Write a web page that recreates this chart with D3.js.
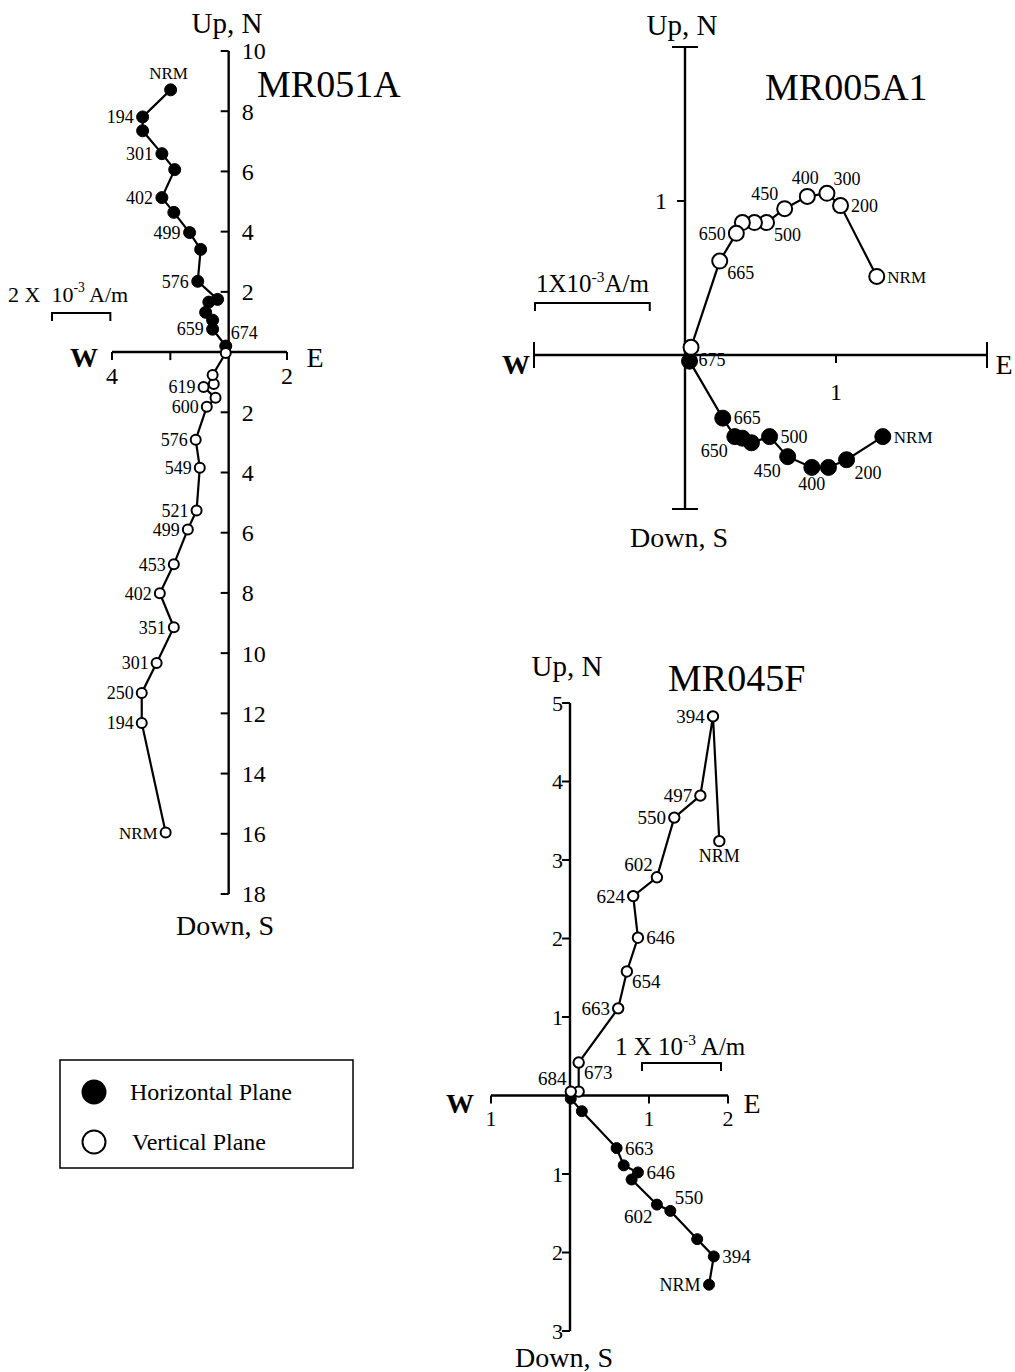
<!DOCTYPE html>
<html lang="en"><head><meta charset="utf-8">
<title>Zijderveld diagrams</title>
<script src="https://cdn.jsdelivr.net/npm/d3@7"></script>
<style>body{margin:0;background:#fff}</style>
</head>
<body>
<script>
// values in 1e-3 A/m ; horizontal plane = [E, N], vertical plane = [E, Up]
// MR051A
var mr051aHoriz = [[-1.99,8.71],[-2.95,7.81],[-2.95,7.35],[-2.29,6.59],[-1.85,6.06],[-2.29,5.13],[-1.88,4.64],
  [-1.34,3.97],[-0.96,3.41],[-1.06,2.35],[-0.38,1.75],[-0.68,1.66],[-0.79,1.32],[-0.55,1.06],[-0.55,0.76],[-0.10,0.20]];
var mr051aHorizLabels = ["NRM","194","","301","","402","","499","","576","","","","","659","674"];
var mr051aVert = [[-2.16,-15.96],[-2.98,-12.32],[-2.98,-11.32],[-2.47,-10.33],[-1.88,-9.14],[-2.36,-8.01],[-1.88,-7.05],
  [-1.40,-5.89],[-1.10,-5.26],[-0.99,-3.84],[-1.13,-2.91],[-0.75,-1.82],[-0.45,-1.52],[-0.86,-1.16],[-0.51,-1.06],[-0.55,-0.76],[-0.10,-0.03]];
var mr051aVertLabels = ["NRM","194","250","301","351","402","453","499","521","549","576","600","","619","","",""];

// MR005A1
var mr005Horiz = [[1.31,-0.53],[1.07,-0.68],[0.95,-0.73],[0.84,-0.73],[0.68,-0.66],[0.56,-0.53],[0.44,-0.57],
  [0.38,-0.54],[0.33,-0.53],[0.25,-0.41],[0.03,-0.04]];
var mr005HorizLabels = ["NRM","200","","400","450","500","","","650","665",""];
var mr005Vert = [[1.27,0.51],[1.03,0.97],[0.94,1.05],[0.81,1.03],[0.66,0.95],[0.54,0.86],[0.46,0.86],
  [0.38,0.86],[0.34,0.79],[0.23,0.61],[0.04,0.05]];
var mr005VertLabels = ["NRM","200","300","400","450","500","","","650","665","675"];

// MR045F
var mr045Horiz = [[1.76,-2.41],[1.82,-2.05],[1.61,-1.83],[1.27,-1.47],[1.10,-1.39],[0.78,-1.07],[0.86,-0.98],
  [0.68,-0.89],[0.59,-0.67],[0.15,-0.20],[0.01,-0.04]];
var mr045HorizLabels = ["NRM","394","","550","602","","646","","663","",""];
var mr045Vert = [[1.89,3.24],[1.81,4.83],[1.65,3.82],[1.32,3.54],[1.10,2.78],[0.80,2.54],[0.86,2.01],
  [0.72,1.58],[0.61,1.11],[0.11,0.42],[0.11,0.05],[0.01,0.05]];
var mr045VertLabels = ["NRM","394","497","550","602","624","646","654","663","673","","684"];

var legendItems = ["Horizontal Plane", "Vertical Plane"];

// label placement around each point (layout only)
var mr051aHorizPlace = ["t","l","","l","","l","","l","","l","","","","","l","rt"];
var mr051aVertPlace = ["l","l","l","l","l","l","l","l","l","l","l","l","","l","","",""];
var mr005HorizPlace = ["r","rb","","b","lb","r","","","lb","r",""];
var mr005VertPlace = ["r","r","rt","t","lt","rb","","","l","rb","rb"];
var mr045HorizPlace = ["l","r","","rt","lb","","r","","r","",""];
var mr045VertPlace = ["b","l","l","l","lt","l","r","rb","l","rb","","lt"];

var FONT = "'Liberation Serif','Times New Roman',Times,serif";
var svg = d3.select("body").append("svg")
  .attr("width", 1015).attr("height", 1372)
  .style("font-family", FONT);

function offset(code, r, fs) {
  if (code == "l") return ["end", -r - 3, fs * 0.35];
  if (code == "r") return ["start", r + 3, fs * 0.35];
  if (code == "t") return ["middle", -2, -r - 5];
  if (code == "b") return ["middle", 0, r + fs * 0.8];
  if (code == "lt") return ["end", -r + 1, -r - 1];
  if (code == "rt") return ["start", r - 1, -r - 1];
  if (code == "lb") return ["end", -r + 1, r + fs * 0.7];
  return ["start", r, r + fs * 0.6]; // rb
}

function drawSeries(g, p, pts, labels, places, filled, r) {
  var line = d3.line().x(function (d) { return p.x(d[0]); }).y(function (d) { return p.y(d[1]); });
  g.append("path").datum(pts).attr("d", line)
    .attr("fill", "none").attr("stroke", "#000").attr("stroke-width", 2.2);
  g.selectAll(null).data(pts).enter().append("circle")
    .attr("cx", function (d) { return p.x(d[0]); })
    .attr("cy", function (d) { return p.y(d[1]); })
    .attr("r", r)
    .attr("fill", filled ? "#000" : "#fff")
    .attr("stroke", "#000").attr("stroke-width", filled ? 1 : 2);
  g.selectAll(null).data(pts).enter().filter(function (d, i) { return labels[i] != ""; })
    .append("text")
    .each(function (d) {
      var i = pts.indexOf(d);
      var o = offset(places[i], r, p.labelSize);
      d3.select(this)
        .attr("x", p.x(d[0]) + o[1])
        .attr("y", p.y(d[1]) + o[2])
        .attr("text-anchor", o[0])
        .attr("font-size", labels[i] == "NRM" ? p.labelSize - 1 : p.labelSize)
        .text(labels[i]);
    });
}

function drawPanel(p) {
  var g = svg.append("g");
  var x0 = p.x(0), y0 = p.y(0);
  var xa = p.x(p.xDom[0]), xb = p.x(p.xDom[1]);
  var ya = p.y(p.yDom[0]), yb = p.y(p.yDom[1]);

  // axes
  g.append("line").attr("x1", xa).attr("x2", xb).attr("y1", y0).attr("y2", y0)
    .attr("stroke", "#000").attr("stroke-width", 2.4);
  g.append("line").attr("x1", x0).attr("x2", x0).attr("y1", ya).attr("y2", yb)
    .attr("stroke", "#000").attr("stroke-width", 2.4);

  // horizontal ticks
  p.xTicks.forEach(function (t, i) {
    g.append("line").attr("x1", p.x(t)).attr("x2", p.x(t)).attr("y1", y0).attr("y2", y0 + 8)
      .attr("stroke", "#000").attr("stroke-width", 2);
    g.append("text").attr("x", p.x(t)).attr("y", y0 + p.xLabelDy)
      .attr("text-anchor", "middle").attr("font-size", p.tickSize)
      .text(p.xTickLabels[i]);
  });
  // vertical ticks
  p.yTicks.forEach(function (t, i) {
    g.append("line").attr("x1", x0 - 8).attr("x2", x0).attr("y1", p.y(t)).attr("y2", p.y(t))
      .attr("stroke", "#000").attr("stroke-width", 2);
    g.append("text").attr("x", x0 + p.yLabelDx).attr("y", p.y(t) + p.tickSize * 0.35)
      .attr("text-anchor", p.yLabelDx > 0 ? "start" : "end").attr("font-size", p.tickSize)
      .text(p.yTickLabels[i]);
  });
  // end caps
  if (p.caps) {
    [xa, xb].forEach(function (cx) {
      g.append("line").attr("x1", cx).attr("x2", cx).attr("y1", y0 - 13).attr("y2", y0 + 13)
        .attr("stroke", "#000").attr("stroke-width", 2);
    });
    [ya, yb].forEach(function (cy) {
      g.append("line").attr("x1", x0 - 13).attr("x2", x0 + 13).attr("y1", cy).attr("y2", cy)
        .attr("stroke", "#000").attr("stroke-width", 2);
    });
  }

  // axis names
  g.append("text").attr("x", p.upPos[0]).attr("y", p.upPos[1]).attr("text-anchor", "middle")
    .attr("font-size", 29).text("Up, N");
  g.append("text").attr("x", p.downPos[0]).attr("y", p.downPos[1]).attr("text-anchor", "middle")
    .attr("font-size", 28).text("Down, S");
  g.append("text").attr("x", p.wPos[0]).attr("y", p.wPos[1]).attr("text-anchor", "middle")
    .attr("font-size", 28).attr("font-weight", "bold").text("W");
  g.append("text").attr("x", p.ePos[0]).attr("y", p.ePos[1]).attr("text-anchor", "middle")
    .attr("font-size", 28).text("E");

  // title
  g.append("text").attr("x", p.titlePos[0]).attr("y", p.titlePos[1])
    .attr("font-size", 38).text(p.title);

  // scale bar
  var sbx = p.scalePos[0], sby = p.scalePos[1];
  var sbw = p.x(p.scaleLen) - p.x(0);
  g.append("path")
    .attr("d", "M" + sbx + "," + (sby + 8) + "V" + sby + "H" + (sbx + sbw) + "V" + (sby + 8))
    .attr("fill", "none").attr("stroke", "#000").attr("stroke-width", 2);
  var st = g.append("text").attr("x", p.scaleText[0]).attr("y", p.scaleText[1])
    .attr("font-size", p.scaleSize).style("white-space", "pre");
  st.append("tspan").text(p.scaleParts[0]);
  st.append("tspan").attr("dy", -10).attr("font-size", p.scaleSize * 0.62).text("-3");
  st.append("tspan").attr("dy", 10).text(p.scaleParts[1]);

  drawSeries(g, p, p.horiz, p.horizLabels, p.horizPlace, true, p.rFill);
  drawSeries(g, p, p.vert, p.vertLabels, p.vertPlace, false, p.rOpen);
}

function absLabel(t) { return String(Math.abs(t)); }

// MR051A
var p1x = d3.scaleLinear().domain([-4, 2]).range([112, 287]);
var p1y = d3.scaleLinear().domain([-18, 10]).range([894, 51]);
var p1yTicks = [10, 8, 6, 4, 2, -2, -4, -6, -8, -10, -12, -14, -16, -18];
drawPanel({
  x: p1x, y: p1y, xDom: [-4, 2], yDom: [-18, 10],
  xTicks: [-4, -2, 2], xTickLabels: ["4", "", "2"], xLabelDy: 32,
  yTicks: p1yTicks, yTickLabels: p1yTicks.map(absLabel), yLabelDx: 13,
  tickSize: 24, labelSize: 18, caps: false,
  upPos: [227, 33], downPos: [225, 935], wPos: [84, 367], ePos: [315, 367],
  title: "MR051A", titlePos: [257, 97],
  scaleLen: 2, scalePos: [52, 313], scaleText: [8, 302], scaleSize: 22, scaleParts: ["2 X  10", " A/m"],
  horiz: mr051aHoriz, horizLabels: mr051aHorizLabels, horizPlace: mr051aHorizPlace,
  vert: mr051aVert, vertLabels: mr051aVertLabels, vertPlace: mr051aVertPlace,
  rFill: 6, rOpen: 5
});

// MR005A1
var p2x = d3.scaleLinear().domain([-1, 2]).range([534, 987]);
var p2y = d3.scaleLinear().domain([-1, 2]).range([509, 47]);
drawPanel({
  x: p2x, y: p2y, xDom: [-1, 2], yDom: [-1, 2],
  xTicks: [1], xTickLabels: ["1"], xLabelDy: 45,
  yTicks: [1], yTickLabels: ["1"], yLabelDx: -18,
  tickSize: 24, labelSize: 18, caps: true,
  upPos: [682, 35], downPos: [679, 547], wPos: [516, 374], ePos: [1004, 374],
  title: "MR005A1", titlePos: [765, 100],
  scaleLen: 0.76, scalePos: [535, 303], scaleText: [536, 292], scaleSize: 25, scaleParts: ["1X10", "A/m"],
  horiz: mr005Horiz, horizLabels: mr005HorizLabels, horizPlace: mr005HorizPlace,
  vert: mr005Vert, vertLabels: mr005VertLabels, vertPlace: mr005VertPlace,
  rFill: 8, rOpen: 7.5
});

// MR045F
var p3x = d3.scaleLinear().domain([-1, 2]).range([491, 728]);
var p3y = d3.scaleLinear().domain([-3, 5]).range([1331, 703]);
var p3yTicks = [5, 4, 3, 2, 1, -1, -2, -3];
drawPanel({
  x: p3x, y: p3y, xDom: [-1, 2], yDom: [-3, 5],
  xTicks: [-1, 1, 2], xTickLabels: ["1", "1", "2"], xLabelDy: 30,
  yTicks: p3yTicks, yTickLabels: p3yTicks.map(absLabel), yLabelDx: -7,
  tickSize: 22, labelSize: 19, caps: false,
  upPos: [567, 676], downPos: [564, 1367], wPos: [460, 1113], ePos: [752, 1113],
  title: "MR045F", titlePos: [668, 691],
  scaleLen: 1, scalePos: [642, 1063], scaleText: [615, 1055], scaleSize: 25, scaleParts: ["1 X 10", " A/m"],
  horiz: mr045Horiz, horizLabels: mr045HorizLabels, horizPlace: mr045HorizPlace,
  vert: mr045Vert, vertLabels: mr045VertLabels, vertPlace: mr045VertPlace,
  rFill: 5.5, rOpen: 5.2
});

// legend
var legend = svg.append("g");
legend.append("rect").attr("x", 60).attr("y", 1060).attr("width", 293).attr("height", 108)
  .attr("fill", "none").attr("stroke", "#000").attr("stroke-width", 1.5);
legend.selectAll(null).data(legendItems).enter().append("circle")
  .attr("cx", 94).attr("cy", function (d, i) { return 1092 + i * 50; })
  .attr("r", 11.5)
  .attr("fill", function (d, i) { return i == 0 ? "#000" : "#fff"; })
  .attr("stroke", "#000").attr("stroke-width", 2);
legend.selectAll(null).data(legendItems).enter().append("text")
  .attr("x", function (d, i) { return 130 + i * 2; })
  .attr("y", function (d, i) { return 1100 + i * 50; })
  .attr("font-size", 24)
  .text(function (d) { return d; });
</script>
</body></html>
